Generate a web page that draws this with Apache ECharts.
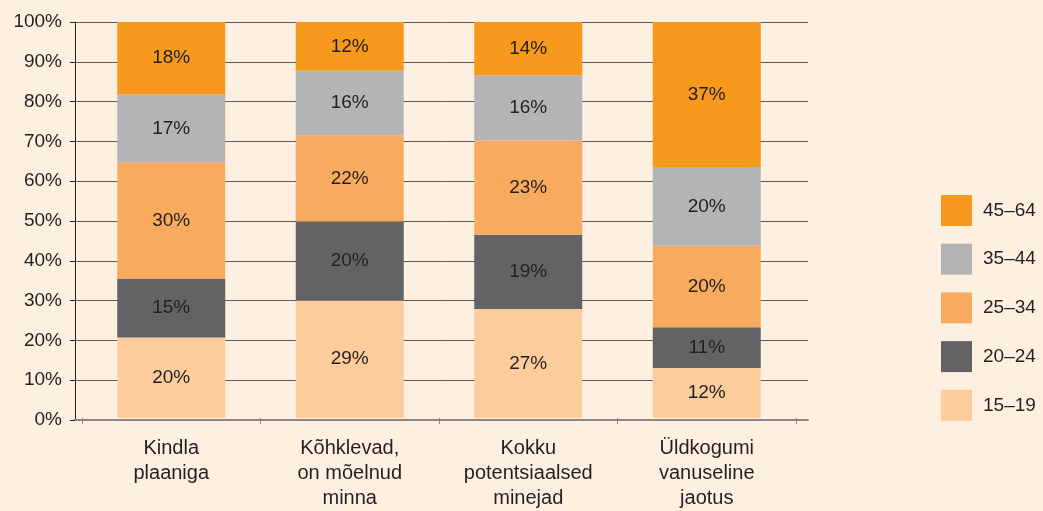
<!DOCTYPE html>
<html>
<head>
<meta charset="utf-8">
<script src="https://cdn.jsdelivr.net/npm/echarts@6/dist/echarts.min.js"></script>
<style>
html,body{margin:0;padding:0;background:#fdf0e1;}
#chart{width:1043px;height:511px;}
</style>
</head>
<body>
<div id="chart"></div>
<script>
// Categories
const categories = ["Kindla\nplaaniga", "Kõhklevad,\non mõelnud\nminna", "Kokku\npotentsiaalsed\nminejad", "Üldkogumi\nvanuseline\njaotus"];
// Series names (stack order, bottom to top)
const seriesNames = ["15–19", "20–24", "25–34", "35–44", "45–64"];
// Segment shares as drawn (percent)
const seg15_19 = [20.3, 29.7, 27.5, 12.6];
const seg20_24 = [14.9, 19.9, 18.8, 10.3];
const seg25_34 = [29.4, 21.8, 23.8, 20.6];
const seg35_44 = [17.1, 16.3, 16.4, 19.9];
const seg45_64 = [18.3, 12.3, 13.5, 36.6];
// Printed labels (percent)
const lbl15_19 = [20, 29, 27, 12];
const lbl20_24 = [15, 20, 19, 11];
const lbl25_34 = [30, 22, 23, 20];
const lbl35_44 = [17, 16, 16, 20];
const lbl45_64 = [18, 12, 14, 37];
// Y tick labels
const yTicks = ["0%", "10%", "20%", "30%", "40%", "50%", "60%", "70%", "80%", "90%", "100%"];

const colors = ["#fccc9c", "#636365", "#f8ab5e", "#b3b4b6", "#f7991c"];
const segs = [seg15_19, seg20_24, seg25_34, seg35_44, seg45_64];
const lbls = [lbl15_19, lbl20_24, lbl25_34, lbl35_44, lbl45_64];
const FONT = '"Liberation Sans", Arial, Helvetica, sans-serif';
const TXT = '#231f20';

const chart = echarts.init(document.getElementById('chart'));
const series = seriesNames.map((name, i) => ({
  name: name,
  type: 'bar',
  stack: 'total',
  xAxisIndex: 0,
  yAxisIndex: 0,
  barWidth: 108,
  data: segs[i],
  itemStyle: { color: colors[i] },
  label: {
    show: true,
    position: 'inside',
    color: TXT,
    fontSize: 19,
    fontFamily: FONT,
    formatter: p => lbls[i][p.dataIndex] + '%'
  }
}));

chart.setOption({
  backgroundColor: '#fdf0e1',
  animation: false,
  textStyle: { fontFamily: FONT },
  grid: [
    { left: 82, right: 247, top: 22, bottom: 91 },
    { left: 75, right: 235, top: 22, bottom: 91 }
  ],
  xAxis: [
    {
      type: 'category', gridIndex: 0, data: categories,
      axisLine: { show: false },
      axisTick: { show: true, length: 6, lineStyle: { color: '#8c8785', width: 1 } },
      axisLabel: { color: TXT, fontSize: 20, lineHeight: 25, margin: 18, fontFamily: FONT, interval: 0 },
      splitLine: { show: false }
    },
    {
      type: 'value', gridIndex: 1, min: 0, max: 1,
      axisLine: { show: true, onZero: false, lineStyle: { color: '#8c8785', width: 2 } },
      axisTick: { show: false }, axisLabel: { show: false }, splitLine: { show: false }
    }
  ],
  yAxis: [
    { type: 'value', gridIndex: 0, min: 0, max: 100, interval: 10, show: false },
    {
      type: 'value', gridIndex: 1, min: 0, max: 100, interval: 10,
      axisLine: { show: true, lineStyle: { color: '#231f20', width: 1 } },
      axisTick: { show: true, length: 5, lineStyle: { color: '#231f20' } },
      axisLabel: { color: TXT, fontSize: 19, margin: 13, fontFamily: FONT,
        formatter: v => yTicks[Math.round(v / 10)] },
      splitLine: { show: true, lineStyle: { color: '#5e5856', width: 1 } }
    }
  ],
  legend: {
    orient: 'vertical',
    left: 941, top: 195,
    padding: 0,
    itemWidth: 31, itemHeight: 31, itemGap: 17.7,
    icon: 'rect',
    data: seriesNames.slice().reverse(),
    textStyle: { color: TXT, fontSize: 19, fontFamily: FONT, padding: [0, 0, 0, 6] }
  },
  series: series
});
</script>
</body>
</html>
